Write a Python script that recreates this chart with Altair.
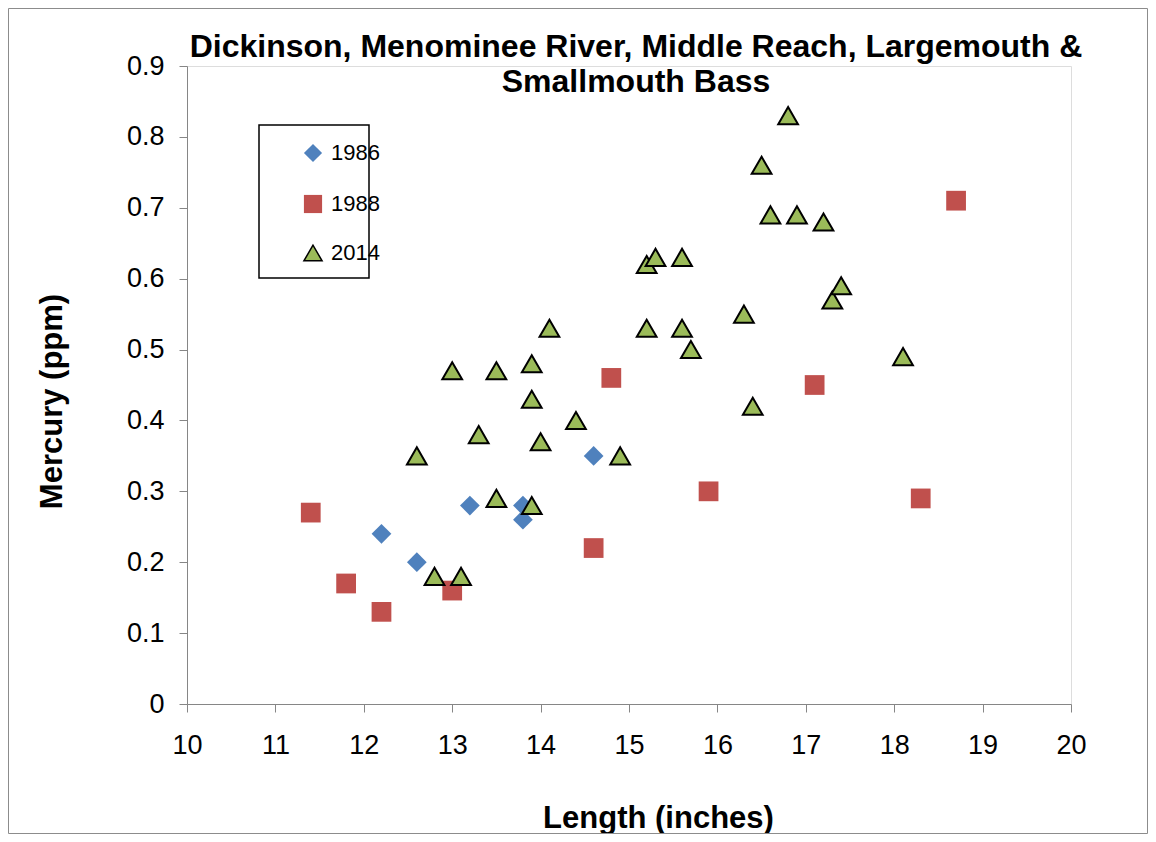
import altair as alt
import pandas as pd

# ---- data ----
len_1986 = [12.2, 12.6, 13.2, 13.8, 13.8, 14.6]
hg_1986 = [0.24, 0.20, 0.28, 0.28, 0.26, 0.35]

len_1988 = [11.4, 11.8, 12.2, 13.0, 14.6, 14.8, 15.9, 17.1, 18.3, 18.7]
hg_1988 = [0.27, 0.17, 0.13, 0.16, 0.22, 0.46, 0.30, 0.45, 0.29, 0.71]

len_2014 = [12.6, 12.8, 13.1, 13.0, 13.3, 13.5, 13.5, 13.9, 13.9, 13.9,
            14.0, 14.1, 14.4, 14.9, 15.2, 15.3, 15.2, 15.6, 15.6, 15.7,
            16.3, 16.4, 16.5, 16.6, 16.8, 16.9, 17.2, 17.3, 17.4, 18.1]
hg_2014 = [0.35, 0.18, 0.18, 0.47, 0.38, 0.29, 0.47, 0.28, 0.43, 0.48,
           0.37, 0.53, 0.40, 0.35, 0.62, 0.63, 0.53, 0.63, 0.53, 0.50,
           0.55, 0.42, 0.76, 0.69, 0.83, 0.69, 0.68, 0.57, 0.59, 0.49]

years = ["1986", "1988", "2014"]
fills = ["#4F81BD", "#C0504D", "#9BBB59"]
shapes = ["diamond", "square", "triangle-up"]
strokes = ["rgba(0,0,0,0)", "rgba(0,0,0,0)", "#000000"]

title_lines = ["Dickinson, Menominee River, Middle Reach, Largemouth &", "Smallmouth Bass"]

rows = []
for yr, xs, ys in [("1986", len_1986, hg_1986), ("1988", len_1988, hg_1988), ("2014", len_2014, hg_2014)]:
    for a, b in zip(xs, ys):
        rows.append({"Year": yr, "Length": a, "Mercury": b})
df = pd.DataFrame(rows)

FONT = "Liberation Sans"
W, H = 884, 638

leg = dict(title=None, orient="none", legendX=115, legendY=76,
           labelFontSize=22, labelFont=FONT, labelColor="#000",
           symbolSize=330, padding=0, rowPadding=25, labelOffset=7)

points = alt.Chart(df).mark_point(filled=True, opacity=1, size=390, strokeWidth=2).encode(
    x=alt.X("Length:Q",
            scale=alt.Scale(domain=[10, 20], nice=False, zero=False),
            axis=alt.Axis(title="Length (inches)", values=list(range(10, 21)), format="d",
                          grid=False, domainColor="#868686", tickColor="#868686",
                          tickSize=8, labelFontSize=27, labelFont=FONT, labelColor="#000",
                          labelPadding=20, labelFlush=False, labelOverlap=False,
                          titleFont=FONT, titleFontSize=31,
                          titleFontWeight="bold", titleColor="#000",
                          titleX=471, titleY=114, titleBaseline="middle", titleAnchor="start",
                          titleAlign="center")),
    y=alt.Y("Mercury:Q",
            scale=alt.Scale(domain=[0, 0.9], nice=False),
            axis=alt.Axis(title="Mercury (ppm)", values=[0, 0.1, 0.2, 0.3, 0.4, 0.5, 0.6, 0.7, 0.8, 0.9],
                          format=".1~f", grid=False, domainColor="#868686", tickColor="#868686",
                          tickSize=8, labelFontSize=27, labelFont=FONT, labelColor="#000",
                          labelPadding=15, labelFlush=False, labelOverlap=False,
                          titleFont=FONT, titleFontSize=31,
                          titleFontWeight="bold", titleColor="#000",
                          titleX=-135, titleY=335, titleBaseline="middle", titleAnchor="start",
                          titleAlign="center", titleAngle=270)),
    fill=alt.Fill("Year:N", scale=alt.Scale(domain=years, range=fills), legend=alt.Legend(**leg)),
    shape=alt.Shape("Year:N", scale=alt.Scale(domain=years, range=shapes), legend=alt.Legend(**leg)),
    stroke=alt.Stroke("Year:N", scale=alt.Scale(domain=years, range=strokes), legend=alt.Legend(**leg)),
)

one = pd.DataFrame({"k": [0]})
legend_box = alt.Chart(one).mark_rect(fill="transparent", stroke="#000000", strokeWidth=1.5).encode(
    x=alt.value(72), x2=alt.value(182), y=alt.value(59), y2=alt.value(212)
)
outer_border = alt.Chart(one).mark_rect(fill="transparent", stroke="#8c8c8c", strokeWidth=1).encode(
    x=alt.value(-178.5), x2=alt.value(960.5), y=alt.value(-57.5), y2=alt.value(767.5)
)

title1 = alt.Chart(pd.DataFrame({"t": [title_lines[0]]})).mark_text(
    font=FONT, fontSize=32, fontWeight="bold", color="#000", align="center", baseline="middle"
).encode(text="t:N", x=alt.value(449), y=alt.value(-19))
title2 = alt.Chart(pd.DataFrame({"t": [title_lines[1]]})).mark_text(
    font=FONT, fontSize=32, fontWeight="bold", color="#000", align="center", baseline="middle"
).encode(text="t:N", x=alt.value(449), y=alt.value(16))

chart = alt.layer(outer_border, legend_box, points, title1, title2).properties(
    width=W, height=H,
    autosize=alt.AutoSizeParams(type="none"),
    padding={"left": 179, "top": 58, "right": 77, "bottom": 130},
).configure_view(stroke=None).configure(background="white")

chart.save("out.html", embed_options={"renderer": "svg", "actions": False})
